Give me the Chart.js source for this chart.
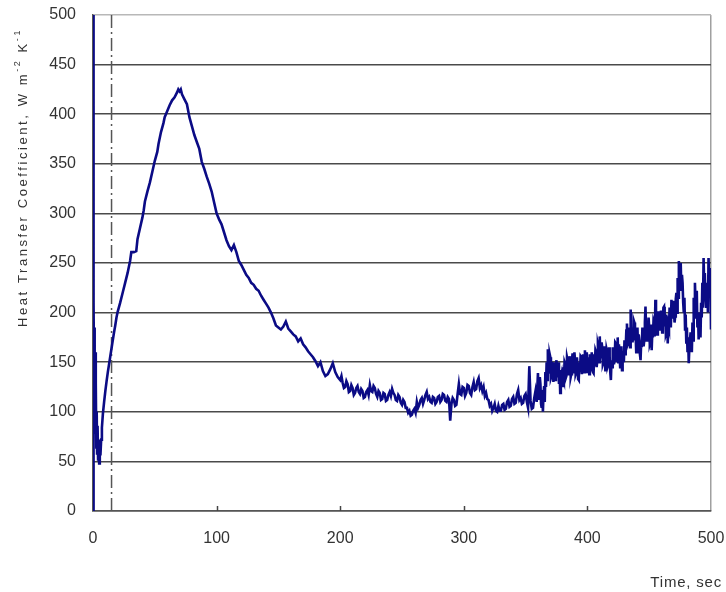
<!DOCTYPE html>
<html><head><meta charset="utf-8">
<script src="https://cdn.jsdelivr.net/npm/chart.js@4"></script>
<style>html,body{margin:0;padding:0;background:#fff}canvas{display:block}</style>
</head><body>
<canvas id="c" width="726" height="592"></canvas>
<script>
const timeSec = [
0,0.3,0.6,0.9,1.2,1.5,1.8,2.1,2.4,2.7,3.0,3.3,3.7,4.1,4.5,5.0,5.5,6.0,6.6,7.2,8,
9,10,11,12,13,14,15,16,17,18,19,20,22,24,26,28,30,31,33,35,36,38,40,41,42,44,46,48,50,52,53,55,57,58,60,62,64,66,68,69,70,71,72,74,76,78,80,82,84,86,88,90,92,94,96,98,
100,102,104,106,108,110,112,114,116,118,120,122,124,126,128,130,132,134,136,138,140,142,144,146,148,150,152,154,156,158,160,162,164,166,168,170,172,174,176,178,180,182,184,186,188,190,192,194,196,198,
200,201,202,203,204,205,206,207,208,209,210,211,212,213,214,215,216,217,218,219,220,221,222,223,224,225,226,227,228,229,
230,231,232,233,234,235,236,237,238,239,240,241,242,243,244,245,246,247,248,249,250,251,252,253,254,255,256,257,258,259,
260,261,262,263,264,265,266,267,268,269,270,271,272,273,274,275,276,277,278,279,280,281,282,283,284,285,286,287,288,289,
290,291,292,293,294,295,296,297,298,299,300,301,302,303,304,305,306,307,308,309,310,311,312,313,314,315,316,317,318,319,
320,321,322,323,324,325,326,327,328,329,330,331,332,333,334,335,336,337,338,339,340,341,342,343,344,345,346,347,348,349,
350,351,352,353,354,355,356,357,358,359,
360,360.5,361,361.5,362,362.5,363,363.5,364,364.5,365,365.5,366,366.5,367,367.5,368,368.5,369,369.5,
370,370.5,371,371.5,372,372.5,373,373.5,374,374.5,375,375.5,376,376.5,377,377.5,378,378.5,379,379.5,
380,380.5,381,381.5,382,382.5,383,383.5,384,384.5,385,385.5,386,386.5,387,387.5,388,388.5,389,389.5,
390,390.5,391,391.5,392,392.5,393,393.5,394,394.5,395,395.5,396,396.5,397,397.5,398,398.5,399,399.5,
400,400.5,401,401.5,402,402.5,403,403.5,404,404.5,405,405.5,406,406.5,407,407.5,408,408.5,409,409.5,
410,410.5,411,411.5,412,412.5,413,413.5,414,414.5,415,415.5,416,416.5,417,417.5,418,418.5,419,419.5,
420,420.5,421,421.5,422,422.5,423,423.5,424,424.5,425,425.5,426,426.5,427,427.5,428,428.5,429,429.5,
430,430.5,431,431.5,432,432.5,433,433.5,434,434.5,435,435.5,436,436.5,437,437.5,438,438.5,439,439.5,
440,440.5,441,441.5,442,442.5,443,443.5,444,444.5,445,445.5,446,446.5,447,447.5,448,448.5,449,449.5,
450,450.5,451,451.5,452,452.5,453,453.5,454,454.5,455,455.5,456,456.5,457,457.5,458,458.5,459,459.5,
460,460.5,461,461.5,462,462.5,463,463.5,464,464.5,465,465.5,466,466.5,467,467.5,468,468.5,469,469.5,
470,470.5,471,471.5,472,472.5,473,473.5,474,474.5,475,475.5,476,476.5,477,477.5,478,478.5,479,479.5,
480,480.5,481,481.5,482,482.5,483,483.5,484,484.5,485,485.5,486,486.5,487,487.5,488,488.5,489,489.5,
490,490.5,491,491.5,492,492.5,493,493.5,494,494.5,495,495.5,496,496.5,497,497.5,498,498.5,499,499.5,
500
];
const htc = [
0,520,210,120,185,92,160,78,130,64,100,58,86,52,72,48,66,56,72,84,98,
110,121,131,140,148,156,164,172,180,187,195,201,210,220,230,240,252,261,261,262,274,285,296,303,312,322,331,342,353,362,370,382,391,397,403,409,414,417,422,425,423,425,420,415,410,397,388,379,372,365,352,345,337,330,322,311,
300,294,289,281,273,267,263,268,261,252,248,243,238,235,230,228,224,222,217,213,209,205,200,194,187,185,183,186,191,184,181,178,176,171,174,168,165,161,158,155,151,146,150,141,136,138,143,149,140,135,
132,136,129,124,125,131,128,120,121,127,124,117,119,124,126,120,118,123,121,114,115,120,122,117,127,121,120,126,124,118,
115,121,119,112,113,119,118,111,112,117,120,116,123,119,117,112,111,117,115,109,107,112,110,104,104,99,101,96,97,101,
103,99,110,104,107,112,114,108,112,117,120,113,115,110,109,115,114,108,110,115,116,110,112,118,117,111,110,115,113,91,
108,114,112,106,107,118,128,118,117,125,124,116,119,127,126,119,117,125,130,122,123,131,134,124,127,121,125,116,119,113,
112,106,108,101,104,108,101,100,106,101,101,107,108,102,103,110,112,105,106,113,115,108,109,118,122,112,114,108,109,116,
118,110,104,146,111,103,104,114,121,110,
139,112,118,135,128,108,104,122,100,118,126,110,140,125,150,132,163,140,142,158,
155,134,136,150,146,130,150,138,132,148,152,136,140,150,128,142,119,135,138,126,
145,132,130,150,148,134,136,155,152,138,142,156,150,135,138,152,159,140,145,160,
152,138,140,155,147,133,132,150,140,156,155,138,143,158,150,140,162,146,145,160,
139,155,150,138,158,144,142,160,153,140,139,158,146,162,160,145,152,168,165,150,
176,155,158,170,165,148,150,166,156,142,145,163,160,146,148,165,156,140,132,152,
145,165,160,148,152,170,169,150,160,175,150,168,158,145,148,166,142,160,160,150,
172,158,165,182,189,168,170,185,180,165,203,178,185,170,178,192,190,172,179,160,
170,185,160,178,172,158,152,170,165,185,180,166,172,190,206,182,190,172,178,195,
185,168,170,188,162,180,175,192,190,176,213,190,195,178,186,200,200,182,186,202,
195,180,188,205,206,186,198,178,180,196,169,188,185,205,200,185,213,195,196,212,
205,190,196,214,220,200,235,215,252,228,240,250,223,238,230,210,200,215,183,198,
170,185,160,175,149,165,165,180,173,160,190,172,215,195,230,210,205,222,185,200,
173,188,190,175,210,195,230,205,255,228,240,215,206,225,230,200,255,230,220,245,
183
];
const markerTime = [15, 15];
const markerValue = [0, 500];
const xTickValues = [0, 100, 200, 300, 400, 500];
const yTickValues = [0, 50, 100, 150, 200, 250, 300, 350, 400, 450, 500];
const yTitleParts = [["Heat Transfer Coefficient, W m", false], ["-2", true], [" K", false], ["-1", true]];
const xTitle = "Time, sec";

const FONT = '"Liberation Sans", Arial, sans-serif';

const framePlugin = {
  id: 'frame',
  afterDatasetsDraw(chart) {
    const ctx = chart.ctx, xs = chart.scales.x, a = chart.chartArea;
    ctx.save();
    ctx.strokeStyle = '#444';
    ctx.lineWidth = 1.5;
    xTickValues.forEach(v => {
      if (v === xTickValues[0] || v === xTickValues[xTickValues.length - 1]) return;
      const px = Math.round(xs.getPixelForValue(v)) + 0.5;
      ctx.beginPath(); ctx.moveTo(px, a.bottom); ctx.lineTo(px, a.bottom - 5); ctx.stroke();
    });
    ctx.restore();
  },
  afterDraw(chart) {
    const ctx = chart.ctx;
    ctx.save();
    ctx.fillStyle = '#333';
    const mainF = '13px ' + FONT, supF = '9px ' + FONT;
    let natural = 0, nChars = 0;
    if ('letterSpacing' in ctx) ctx.letterSpacing = '0px';
    yTitleParts.forEach(([t, sup]) => { ctx.font = sup ? supF : mainF; natural += ctx.measureText(t).width; nChars += t.length; });
    const targetLen = 299;
    const sp = Math.max(0, (targetLen - natural) / nChars);
    ctx.translate(27, 327);
    ctx.rotate(-Math.PI / 2);
    ctx.textBaseline = 'alphabetic';
    ctx.textAlign = 'left';
    let pos = 0;
    yTitleParts.forEach(([t, sup]) => {
      ctx.font = sup ? supF : mainF;
      if ('letterSpacing' in ctx) ctx.letterSpacing = '0px';
      const w = ctx.measureText(t).width;
      if ('letterSpacing' in ctx) ctx.letterSpacing = sp.toFixed(2) + 'px';
      ctx.fillText(t, pos, sup ? -7 : 0);
      pos += w + sp * t.length;
    });
    ctx.restore();
    ctx.save();
    ctx.fillStyle = '#333';
    ctx.font = '15px ' + FONT;
    if ('letterSpacing' in ctx) ctx.letterSpacing = '0.8px';
    ctx.textAlign = 'right';
    ctx.textBaseline = 'alphabetic';
    ctx.fillText(xTitle, 722, 587);
    ctx.restore();
  }
};

new Chart(document.getElementById('c'), {
  type: 'line',
  data: {
    datasets: [
      {
        label: 'Heat transfer coefficient',
        data: timeSec.map((t, i) => ({ x: t, y: htc[i] })),
        borderColor: '#0b0b85',
        borderWidth: 2.6,
        pointRadius: 0,
        tension: 0,
        fill: false,
        order: 1
      },
      {
        label: 'marker',
        data: markerTime.map((t, i) => ({ x: t, y: markerValue[i] })),
        borderColor: '#555',
        borderWidth: 1.5,
        borderDash: [13, 4, 2, 4],
        pointRadius: 0,
        fill: false,
        order: 2
      }
    ]
  },
  options: {
    responsive: false,
    animation: false,
    devicePixelRatio: 1,
    layout: { padding: { top: 15, right: 15, left: 0, bottom: 0 } },
    plugins: { legend: { display: false }, tooltip: { enabled: false } },
    scales: {
      x: {
        type: 'linear', min: 0, max: 500,
        afterBuildTicks: s => { s.ticks = xTickValues.map(v => ({ value: v })); },
        afterFit: s => { s.height = 81; s.paddingLeft = 0; s.paddingRight = 0; },
        ticks: { font: { size: 16, family: FONT }, color: '#333', padding: 18, maxRotation: 0 },
        grid: {
          drawTicks: false,
          color: c => (c.tick && c.tick.value === 500) ? '#a0a0a0' : 'rgba(0,0,0,0)',
          lineWidth: 1.5
        },
        border: { display: true, color: '#555', width: 1.5 }
      },
      y: {
        type: 'linear', min: 0, max: 500,
        afterBuildTicks: s => { s.ticks = yTickValues.map(v => ({ value: v })); },
        afterFit: s => { s.width = 93; s.paddingTop = 0; s.paddingBottom = 0; },
        ticks: { font: { size: 16, family: FONT }, color: '#333', padding: 17 },
        grid: {
          drawTicks: false,
          color: c => (c.tick && c.tick.value === 500) ? '#b8b8b8' : '#4a4a4a',
          lineWidth: 1.5
        },
        border: { display: true, color: '#555', width: 1.5 }
      }
    }
  },
  plugins: [framePlugin]
});
</script>
</body></html>
